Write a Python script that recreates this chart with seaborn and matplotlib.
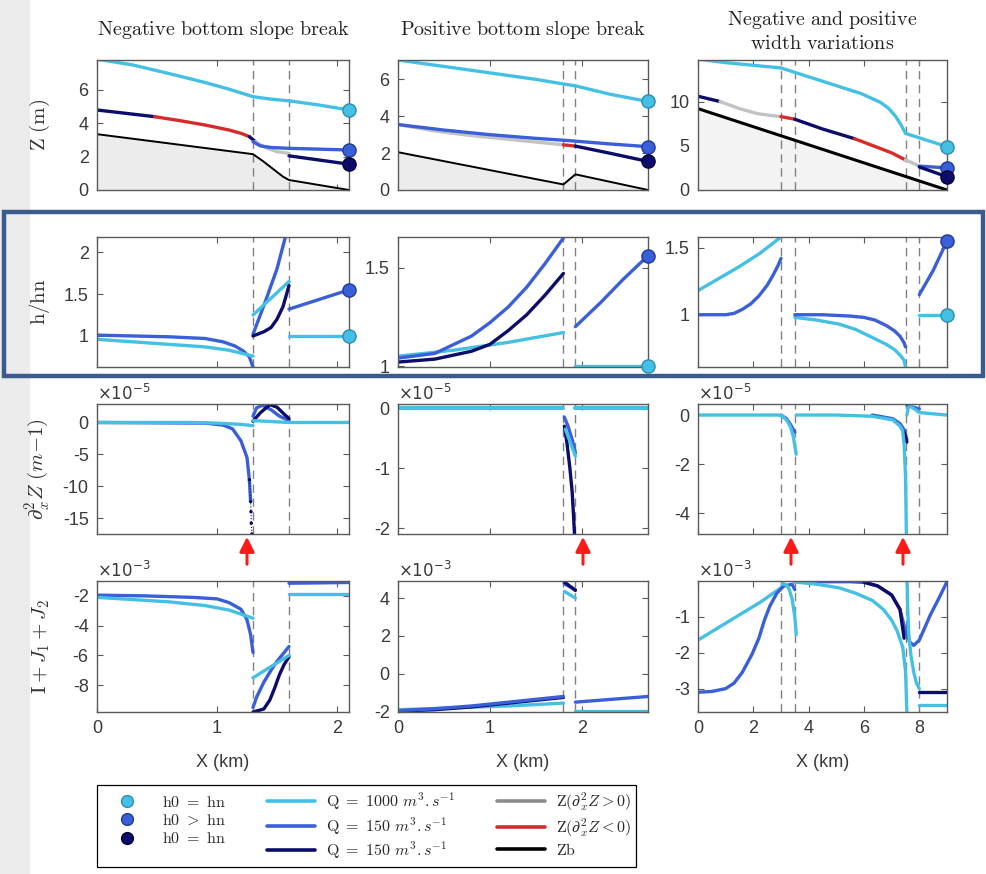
import numpy as np
import matplotlib
matplotlib.use("Agg")
import matplotlib.pyplot as plt
import seaborn as sns
from matplotlib.lines import Line2D
from matplotlib.patches import Rectangle, FancyArrowPatch

# ---------------- data ----------------
BRK1 = [1.3, 1.6]
BRK2 = [1.8, 1.93]
BRK3 = [3.0, 3.5, 7.5, 8.0]
TITLES = [r'$\mathrm{Negative\ bottom\ slope\ break}$',
          r'$\mathrm{Positive\ bottom\ slope\ break}$',
          r'$\mathrm{Negative\ and\ positive}$' + '\n' + r'$\mathrm{width\ variations}$']

# Row 1 (Z)
X11_CYAN = [0, 0.3, 0.65, 0.9, 1.1, 1.3, 1.45, 1.6, 1.85, 2.1]
Z11_CYAN = [7.85, 7.5, 6.9, 6.45, 6.05, 5.6, 5.45, 5.35, 5.1, 4.8]
X11_NAVY_A = [0, 0.48]; Z11_NAVY_A = [4.8, 4.4]
X11_RED = [0.48, 0.7, 0.9, 1.1, 1.2, 1.27]; Z11_RED = [4.4, 4.15, 3.9, 3.6, 3.4, 3.2]
X11_NAVY_B = [1.27, 1.32]; Z11_NAVY_B = [3.2, 2.9]
X11_GREY = [1.32, 1.4, 1.5, 1.6]; Z11_GREY = [2.9, 2.55, 2.3, 2.2]
X11_BLUE = [1.3, 1.36, 1.45, 1.6, 1.85, 2.1]; Z11_BLUE = [2.9, 2.65, 2.55, 2.5, 2.45, 2.4]
X11_NAVY_C = [1.6, 1.85, 2.1]; Z11_NAVY_C = [2.05, 1.8, 1.55]
X11_BED = [0, 1.3, 1.38, 1.55, 1.6, 2.1]; Z11_BED = [3.35, 2.15, 1.75, 0.8, 0.6, 0.0]

X12_CYAN = [0, 0.5, 1.0, 1.5, 1.8, 1.93, 2.3, 2.72]; Z12_CYAN = [7.05, 6.7, 6.35, 6.0, 5.75, 5.65, 5.2, 4.8]
X12_GREY = [0, 0.4, 0.8, 1.2, 1.5, 1.8]; Z12_GREY = [3.55, 3.2, 2.95, 2.75, 2.6, 2.45]
X12_BLUE = [0, 0.5, 1.0, 1.5, 1.8, 1.93, 2.3, 2.72]; Z12_BLUE = [3.55, 3.25, 3.0, 2.8, 2.7, 2.65, 2.5, 2.35]
X12_RED = [1.8, 1.93]; Z12_RED = [2.45, 2.38]
X12_NAVY = [1.93, 2.3, 2.72]; Z12_NAVY = [2.38, 2.0, 1.55]
X12_BED = [0, 1.8, 1.93, 2.72]; Z12_BED = [2.05, 0.3, 0.85, 0.0]

X13_CYAN = [0, 1, 2, 3, 3.5, 4.3, 5.1, 5.9, 6.6, 6.9, 7.15, 7.35, 7.5, 8, 8.5, 9]
Z13_CYAN = [14.8, 14.4, 14.1, 13.8, 13.3, 12.5, 11.7, 10.9, 9.9, 9.2, 8.3, 7.3, 6.4, 5.9, 5.4, 4.9]
X13_NAVY_A = [0, 0.8]; Z13_NAVY_A = [10.6, 10.0]
X13_GREY_A = [0.8, 1.5, 2.2, 3.0]; Z13_GREY_A = [10.0, 9.2, 8.6, 8.3]
X13_RED_A = [3.0, 3.5]; Z13_RED_A = [8.3, 8.0]
X13_NAVY_B = [3.5, 4.5, 5.66]; Z13_NAVY_B = [8.0, 6.9, 5.8]
X13_RED_B = [5.66, 6.5, 7.0, 7.5]; Z13_RED_B = [5.8, 4.8, 4.2, 3.4]
X13_GREY_B = [7.5, 8.0]; Z13_GREY_B = [3.4, 2.7]
X13_BLUE = [8.0, 9.0]; Z13_BLUE = [2.7, 2.5]
X13_NAVY_C = [8.0, 9.0]; Z13_NAVY_C = [2.6, 1.5]
X13_BED = [0, 9]; Z13_BED = [9.2, 0]

# Row 2 (h/hn)
X21_BLUE_A = [0, 0.3, 0.6, 0.9, 1.05, 1.15, 1.22, 1.27, 1.3]; H21_BLUE_A = [1.01, 1.0, 0.99, 0.97, 0.93, 0.88, 0.82, 0.75, 0.63]
X21_CYAN_A = [0, 0.3, 0.6, 0.9, 1.1, 1.3]; H21_CYAN_A = [0.96, 0.93, 0.9, 0.87, 0.83, 0.76]
X21_CYAN_B = [1.3, 1.45, 1.6]; H21_CYAN_B = [1.25, 1.45, 1.65]
X21_BLUE_B = [1.3, 1.4, 1.5, 1.57]; H21_BLUE_B = [1.02, 1.4, 1.8, 2.18]
X21_NAVY = [1.3, 1.39, 1.45, 1.5, 1.55, 1.6]; H21_NAVY = [1.0, 1.05, 1.1, 1.2, 1.35, 1.6]
X21_BLUE_C = [1.6, 2.1]; H21_BLUE_C = [1.32, 1.55]
X21_CYAN_C = [1.6, 2.1]; H21_CYAN_C = [1.0, 1.0]

X22_BLUE_A = [0, 0.4, 0.8, 1.0, 1.2, 1.4, 1.6, 1.8]; H22_BLUE_A = [1.04, 1.064, 1.152, 1.22, 1.30, 1.40, 1.52, 1.65]
X22_NAVY = [0, 0.4, 0.8, 1.0, 1.2, 1.4, 1.6, 1.8]; H22_NAVY = [1.02, 1.035, 1.075, 1.11, 1.18, 1.26, 1.36, 1.47]
X22_CYAN_A = [0, 0.6, 1.2, 1.8]; H22_CYAN_A = [1.05, 1.08, 1.12, 1.17]
X22_BLUE_B = [1.93, 2.2, 2.45, 2.72]; H22_BLUE_B = [1.2, 1.32, 1.44, 1.56]
X22_CYAN_B = [1.93, 2.72]; H22_CYAN_B = [1.0, 1.0]

X23_CYAN_A = [0, 0.75, 1.5, 2.25, 3.0]; H23_CYAN_A = [1.18, 1.27, 1.36, 1.46, 1.58]
X23_BLUE_A = [0, 1.0, 1.3, 1.6, 1.9, 2.2, 2.5, 2.7, 2.9, 3.0]; H23_BLUE_A = [1.0, 1.0, 1.01, 1.04, 1.08, 1.14, 1.22, 1.29, 1.37, 1.42]
X23_BLUE_B = [3.5, 4.5, 5.5, 6.0, 6.4, 6.8, 7.1, 7.3, 7.45, 7.5]; H23_BLUE_B = [1.0, 1.0, 0.99, 0.98, 0.96, 0.92, 0.88, 0.84, 0.79, 0.76]
X23_CYAN_B = [3.5, 4.3, 5.1, 5.7, 6.3, 6.8, 7.1, 7.3, 7.45, 7.5]; H23_CYAN_B = [0.98, 0.96, 0.93, 0.89, 0.83, 0.78, 0.74, 0.70, 0.66, 0.61]
X23_BLUE_C = [8.0, 8.5, 9.0]; H23_BLUE_C = [1.15, 1.33, 1.55]
X23_CYAN_C = [8.0, 9.0]; H23_CYAN_C = [1.0, 1.0]

# Row 3 (d2Z, x1e-5)
X31_CYAN_A = [0, 0.8, 1.0, 1.2, 1.3]; D31_CYAN_A = [0, 0, -0.1, -0.3, -0.5]
X31_CYAN_B = [1.3, 1.6, 2.1]; D31_CYAN_B = [0.3, 0, 0]
X31_BLUE_A = [0, 0.9, 1.05, 1.13, 1.2, 1.25, 1.27, 1.28]; D31_BLUE_A = [0, -0.1, -0.4, -1.0, -2.9, -5.5, -9, -12.4]
X31_NAVY_A = [1.27, 1.28, 1.283, 1.286, 1.29]; D31_NAVY_A = [-9, -12.4, -14, -15.8, -17.5]
X31_BLUE_B = [1.3, 1.33, 1.38, 1.45, 1.52, 1.6]; D31_BLUE_B = [1.0, 2.3, 2.7, 2.0, 1.0, 0.3]
X31_NAVY_B = [1.3, 1.36, 1.44, 1.5, 1.56, 1.6]; D31_NAVY_B = [0.2, 1.5, 2.8, 2.4, 1.3, 0.6]

X32_CYAN_A = [0, 1.8]; D32_CYAN_A = [0, 0]
X32_CYAN_C = [1.93, 2.72]; D32_CYAN_C = [0, 0]
X32_BLUE = [1.81, 1.85, 1.9, 1.93]; D32_BLUE = [-0.15, -0.3, -0.55, -0.75]
X32_CYAN_B = [1.82, 1.87, 1.93]; D32_CYAN_B = [-0.35, -0.55, -0.8]
X32_NAVY = [1.81, 1.84, 1.87, 1.895, 1.91, 1.92]; D32_NAVY = [-0.3, -0.6, -1.0, -1.4, -1.8, -2.1]

X33_CYAN_A = [0, 2.9, 3.05, 3.2, 3.35, 3.45, 3.55]; D33_CYAN_A = [0, 0, -0.05, -0.2, -0.5, -0.9, -1.6]
X33_NAVY_A = [3.0, 3.2, 3.35, 3.5]; D33_NAVY_A = [0, -0.15, -0.4, -0.7]
X33_CYAN_B = [3.55, 5, 6.3, 7.04, 7.3, 7.4, 7.45, 7.5, 7.52, 7.53]; D33_CYAN_B = [0, 0, -0.05, -0.2, -0.45, -0.65, -1.2, -2.5, -4, -4.85]
X33_BLUE_B = [6.3, 7.04, 7.3, 7.45, 7.55]; D33_BLUE_B = [0, -0.15, -0.35, -0.6, -1.0]
X33_NAVY_B = [7.45, 7.5, 7.55]; D33_NAVY_B = [-0.7, -0.9, -1.1]
X33_BLUE_C = [7.55, 7.7, 8.0]; D33_BLUE_C = [0.4, 0.35, 0.25]
X33_CYAN_C = [7.55, 7.6, 7.7, 8.0, 9.0]; D33_CYAN_C = [0.0, 0.3, 0.35, 0.1, 0.0]

# Row 4 (I+J1+J2, x1e-3)
X41_BLUE_A = [0, 0.4, 0.8, 1.0, 1.1, 1.2, 1.25, 1.28, 1.3]; J41_BLUE_A = [-1.95, -2.0, -2.1, -2.2, -2.45, -2.9, -3.6, -4.6, -5.8]
X41_CYAN_A = [0, 0.3, 0.6, 0.9, 1.1, 1.3]; J41_CYAN_A = [-2.1, -2.25, -2.4, -2.65, -2.95, -3.5]
X41_CYAN_B = [1.3, 1.4, 1.5, 1.6]; J41_CYAN_B = [-7.5, -7.0, -6.5, -6.0]
X41_BLUE_B = [1.3, 1.33, 1.39, 1.45, 1.5, 1.55, 1.6]; J41_BLUE_B = [-9.5, -8.8, -7.8, -7.0, -6.4, -5.9, -5.4]
X41_NAVY_B = [1.3, 1.39, 1.44, 1.48, 1.52, 1.56, 1.6]; J41_NAVY_B = [-9.8, -9.6, -9.0, -8.2, -7.3, -6.6, -6.1]
X41_BLUE_C = [1.6, 2.1]; J41_BLUE_C = [-1.15, -1.1]
X41_CYAN_C = [1.6, 2.1]; J41_CYAN_C = [-1.9, -1.9]

X42_BLUE_A = [0, 0.4, 0.8, 1.2, 1.5, 1.8]; J42_BLUE_A = [-1.95, -1.85, -1.7, -1.5, -1.35, -1.2]
X42_NAVY_A = [0, 0.4, 0.8, 1.2, 1.5, 1.8]; J42_NAVY_A = [-1.97, -1.9, -1.75, -1.55, -1.4, -1.25]
X42_CYAN_A = [0, 0.6, 1.2, 1.8]; J42_CYAN_A = [-1.9, -1.8, -1.7, -1.55]
X42_NAVY_B = [1.81, 1.93]; J42_NAVY_B = [4.85, 4.4]
X42_BLUE_B = [1.81, 1.93]; J42_BLUE_B = [4.75, 4.45]
X42_CYAN_B = [1.81, 1.93]; J42_CYAN_B = [4.35, 4.0]
X42_BLUE_C = [1.93, 2.72]; J42_BLUE_C = [-1.5, -1.2]
X42_CYAN_C = [1.93, 2.72]; J42_CYAN_C = [-1.95, -1.95]

X43_CYAN_A = [0, 0.75, 1.5, 2.25, 3.0, 3.1]; J43_CYAN_A = [-1.65, -1.3, -0.95, -0.6, -0.2, -0.08]
X43_CYAN_B = [3.05, 3.2, 3.3, 3.4, 3.5, 3.55]; J43_CYAN_B = [-0.1, -0.12, -0.25, -0.5, -1.0, -1.5]
X43_BLUE_A = [0, 0.5, 1.0, 1.3, 1.6, 1.95, 2.2, 2.4, 2.6, 2.85, 3.1, 3.4, 3.5]
J43_BLUE_A = [-3.1, -3.08, -3.0, -2.85, -2.55, -2.05, -1.6, -1.1, -0.7, -0.35, -0.15, -0.1, -0.25]
X43_CYAN_C = [3.5, 4.3, 5.1, 5.7, 6.3, 6.7, 7.0, 7.2, 7.4, 7.5, 7.55]; J43_CYAN_C = [-0.04, -0.1, -0.2, -0.35, -0.55, -0.8, -1.1, -1.4, -1.85, -2.5, -3.65]
X43_CYAN_D = [7.56, 7.58, 7.62, 7.7, 7.8, 7.9, 8.0]; J43_CYAN_D = [-0.03, -0.8, -1.5, -2.1, -2.55, -2.85, -3.0]
X43_BLUE_B = [3.5, 4.5, 5.5, 6.0, 6.5, 7.0, 7.3, 7.5, 7.65, 7.8, 8.0, 8.2, 8.4, 8.7, 9.0]
J43_BLUE_B = [-0.03, -0.03, -0.03, -0.05, -0.15, -0.4, -0.8, -1.4, -1.7, -1.8, -1.65, -1.3, -0.95, -0.5, -0.03]
X43_NAVY_B = [6.0, 6.5, 7.0, 7.3, 7.45]; J43_NAVY_B = [-0.04, -0.15, -0.4, -0.8, -1.6]
X43_NAVY_C = [8.0, 9.0]; J43_NAVY_C = [-3.1, -3.1]
X43_CYAN_E = [8.0, 9.0]; J43_CYAN_E = [-3.45, -3.45]

# ---------------- style ----------------
CYAN = '#45c0e5'
BLUE = '#3a5fd6'
NAVY = '#0c0c6a'
RED = '#d52b2b'
GREY = '#c3c3c3'
BEDC = '#000000'
AXC = '#5a5a5a'
TXC = '#3a3a3a'

sns.set_style('ticks')
plt.rcParams['font.family'] = ['Liberation Sans', 'DejaVu Sans']
plt.rcParams['mathtext.fontset'] = 'cm'
plt.rcParams['axes.unicode_minus'] = False

W, H = 987, 874
fig = plt.figure(figsize=(W / 100, H / 100), dpi=100)
fig.patch.set_facecolor('white')
fig.patches.append(Rectangle((0, 0), 30 / W, 1, transform=fig.transFigure,
                             facecolor='#ebebeb', edgecolor='none', zorder=0))

COL_L = [97, 398, 698]
COL_W = [252, 250, 249]
ROW_T = [60, 237, 404, 581]
ROW_H = [130, 130, 130, 131]

axes = [[None] * 3 for _ in range(4)]
for r in range(4):
    for c in range(3):
        axes[r][c] = fig.add_axes([COL_L[c] / W, 1 - (ROW_T[r] + ROW_H[r]) / H,
                                   COL_W[c] / W, ROW_H[r] / H])

LW = 2.4


def line(ax, x, y, color, lw=LW, z=3, **kw):
    sns.lineplot(x=x, y=y, color=color, lw=lw, ax=ax, sort=False,
                 estimator=None, legend=False, zorder=z, **kw)


def dots(ax, x, y, color):
    sns.scatterplot(x=x, y=y, color=color, s=6, ax=ax, legend=False,
                    edgecolor='none', zorder=4)


def end(ax, x, y, color, edge):
    sns.scatterplot(x=[x], y=[y], color=color, s=90, ax=ax, legend=False,
                    edgecolor=edge, linewidth=1.0, zorder=6, clip_on=False)


EDGE = {CYAN: '#2a8db0', BLUE: '#23399a', NAVY: '#000033'}

# Row 1
ax = axes[0][0]
ax.fill_between(X11_BED, 0, Z11_BED, color='#ececec', zorder=1, lw=0)
line(ax, X11_BED, Z11_BED, BEDC, lw=1.4)
line(ax, X11_CYAN, Z11_CYAN, CYAN)
line(ax, X11_NAVY_A, Z11_NAVY_A, NAVY)
line(ax, X11_RED, Z11_RED, RED)
line(ax, X11_NAVY_B, Z11_NAVY_B, NAVY)
line(ax, X11_GREY, Z11_GREY, GREY)
line(ax, X11_BLUE, Z11_BLUE, BLUE)
line(ax, X11_NAVY_C, Z11_NAVY_C, NAVY)
end(ax, X11_CYAN[-1], Z11_CYAN[-1], CYAN, EDGE[CYAN])
end(ax, X11_BLUE[-1], Z11_BLUE[-1], BLUE, EDGE[BLUE])
end(ax, X11_NAVY_C[-1], Z11_NAVY_C[-1], NAVY, EDGE[NAVY])

ax = axes[0][1]
ax.fill_between(X12_BED, 0, Z12_BED, color='#ececec', zorder=1, lw=0)
line(ax, X12_BED, Z12_BED, BEDC, lw=1.4)
line(ax, X12_CYAN, Z12_CYAN, CYAN)
line(ax, X12_GREY, Z12_GREY, GREY)
line(ax, X12_BLUE, Z12_BLUE, BLUE)
line(ax, X12_RED, Z12_RED, RED)
line(ax, X12_NAVY, Z12_NAVY, NAVY)
end(ax, X12_CYAN[-1], Z12_CYAN[-1], CYAN, EDGE[CYAN])
end(ax, X12_BLUE[-1], Z12_BLUE[-1], BLUE, EDGE[BLUE])
end(ax, X12_NAVY[-1], Z12_NAVY[-1], NAVY, EDGE[NAVY])

ax = axes[0][2]
ax.fill_between(X13_BED, 0, Z13_BED, color='#f3f3f3', zorder=1, lw=0)
line(ax, X13_BED, Z13_BED, BEDC, lw=2.2)
line(ax, X13_CYAN, Z13_CYAN, CYAN)
line(ax, X13_NAVY_A, Z13_NAVY_A, NAVY)
line(ax, X13_GREY_A, Z13_GREY_A, GREY)
line(ax, X13_RED_A, Z13_RED_A, RED)
line(ax, X13_NAVY_B, Z13_NAVY_B, NAVY)
line(ax, X13_RED_B, Z13_RED_B, RED)
line(ax, X13_GREY_B, Z13_GREY_B, GREY)
line(ax, X13_BLUE, Z13_BLUE, BLUE)
line(ax, X13_NAVY_C, Z13_NAVY_C, NAVY)
end(ax, X13_CYAN[-1], Z13_CYAN[-1], CYAN, EDGE[CYAN])
end(ax, X13_BLUE[-1], Z13_BLUE[-1], BLUE, EDGE[BLUE])
end(ax, X13_NAVY_C[-1], Z13_NAVY_C[-1], NAVY, EDGE[NAVY])

# Row 2
ax = axes[1][0]
line(ax, X21_BLUE_A, H21_BLUE_A, BLUE)
line(ax, X21_CYAN_A, H21_CYAN_A, CYAN)
line(ax, X21_BLUE_B, H21_BLUE_B, BLUE)
line(ax, X21_CYAN_B, H21_CYAN_B, CYAN)
line(ax, X21_NAVY, H21_NAVY, NAVY)
line(ax, X21_BLUE_C, H21_BLUE_C, BLUE)
line(ax, X21_CYAN_C, H21_CYAN_C, CYAN)
end(ax, X21_BLUE_C[-1], H21_BLUE_C[-1], BLUE, EDGE[BLUE])
end(ax, X21_CYAN_C[-1], H21_CYAN_C[-1], CYAN, EDGE[CYAN])

ax = axes[1][1]
line(ax, X22_CYAN_A, H22_CYAN_A, CYAN)
line(ax, X22_BLUE_A, H22_BLUE_A, BLUE)
line(ax, X22_NAVY, H22_NAVY, NAVY)
line(ax, X22_BLUE_B, H22_BLUE_B, BLUE)
line(ax, X22_CYAN_B, H22_CYAN_B, CYAN)
end(ax, X22_BLUE_B[-1], H22_BLUE_B[-1], BLUE, EDGE[BLUE])
end(ax, X22_CYAN_B[-1], H22_CYAN_B[-1], CYAN, EDGE[CYAN])

ax = axes[1][2]
line(ax, X23_CYAN_A, H23_CYAN_A, CYAN)
line(ax, X23_BLUE_A, H23_BLUE_A, BLUE)
line(ax, X23_CYAN_B, H23_CYAN_B, CYAN)
line(ax, X23_BLUE_B, H23_BLUE_B, BLUE)
line(ax, X23_BLUE_C, H23_BLUE_C, BLUE)
line(ax, X23_CYAN_C, H23_CYAN_C, CYAN)
end(ax, X23_BLUE_C[-1], H23_BLUE_C[-1], BLUE, EDGE[BLUE])
end(ax, X23_CYAN_C[-1], H23_CYAN_C[-1], CYAN, EDGE[CYAN])

# Row 3
ax = axes[2][0]
line(ax, X31_BLUE_A, D31_BLUE_A, BLUE)
dots(ax, X31_NAVY_A, D31_NAVY_A, NAVY)
line(ax, X31_NAVY_A, D31_NAVY_A, NAVY, lw=0.8, linestyle=':')
line(ax, X31_BLUE_B, D31_BLUE_B, BLUE)
line(ax, X31_NAVY_B, D31_NAVY_B, NAVY)
line(ax, X31_CYAN_A, D31_CYAN_A, CYAN)
line(ax, X31_CYAN_B, D31_CYAN_B, CYAN)

ax = axes[2][1]
line(ax, X32_BLUE, D32_BLUE, BLUE)
line(ax, X32_NAVY, D32_NAVY, NAVY)
line(ax, X32_CYAN_B, D32_CYAN_B, CYAN)
line(ax, X32_CYAN_A, D32_CYAN_A, CYAN, lw=3)
line(ax, X32_CYAN_C, D32_CYAN_C, CYAN, lw=3)

ax = axes[2][2]
line(ax, X33_NAVY_A, D33_NAVY_A, BLUE)
line(ax, X33_BLUE_B, D33_BLUE_B, BLUE)
line(ax, X33_NAVY_B, D33_NAVY_B, NAVY)
line(ax, X33_BLUE_C, D33_BLUE_C, BLUE)
line(ax, X33_CYAN_A, D33_CYAN_A, CYAN)
line(ax, X33_CYAN_B, D33_CYAN_B, CYAN)
line(ax, X33_CYAN_C, D33_CYAN_C, CYAN)

# Row 4
ax = axes[3][0]
line(ax, X41_BLUE_A, J41_BLUE_A, BLUE)
line(ax, X41_CYAN_A, J41_CYAN_A, CYAN)
line(ax, X41_NAVY_B, J41_NAVY_B, NAVY)
line(ax, X41_BLUE_B, J41_BLUE_B, BLUE)
line(ax, X41_CYAN_B, J41_CYAN_B, CYAN)
line(ax, X41_BLUE_C, J41_BLUE_C, BLUE)
line(ax, X41_CYAN_C, J41_CYAN_C, CYAN)

ax = axes[3][1]
line(ax, X42_CYAN_A, J42_CYAN_A, CYAN)
line(ax, X42_NAVY_A, J42_NAVY_A, NAVY)
line(ax, X42_BLUE_A, J42_BLUE_A, BLUE)
line(ax, X42_CYAN_B, J42_CYAN_B, CYAN)
line(ax, X42_BLUE_B, J42_BLUE_B, BLUE)
line(ax, X42_NAVY_B, J42_NAVY_B, NAVY)
line(ax, X42_BLUE_C, J42_BLUE_C, BLUE)
line(ax, X42_CYAN_C, J42_CYAN_C, CYAN)

ax = axes[3][2]
line(ax, X43_CYAN_A, J43_CYAN_A, CYAN)
line(ax, X43_BLUE_A, J43_BLUE_A, BLUE)
line(ax, X43_CYAN_B, J43_CYAN_B, CYAN)
line(ax, X43_BLUE_B, J43_BLUE_B, BLUE)
line(ax, X43_NAVY_B, J43_NAVY_B, NAVY)
line(ax, X43_CYAN_C, J43_CYAN_C, CYAN)
line(ax, X43_CYAN_D, J43_CYAN_D, CYAN)
line(ax, X43_NAVY_C, J43_NAVY_C, NAVY)
line(ax, X43_CYAN_E, J43_CYAN_E, CYAN)

# ---------------- axes formatting ----------------
XLIMS = [(0, 2.1), (0, 2.72), (0, 9.0)]
XTICKS = [[0, 1, 2], [0, 1, 2], [0, 2, 4, 6, 8]]
BRKS = [BRK1, BRK2, BRK3]
YLIMS = [[(0, 7.8), (0, 7.05), (0, 14.7)],
         [(0.63, 2.18), (0.995, 1.655), (0.61, 1.58)],
         [(-17.5, 2.9), (-2.1, 0.07), (-4.85, 0.45)],
         [(-9.8, -1.0), (-2.02, 4.9), (-3.65, -0.01)]]
YTICKS = [[[0, 2, 4, 6], [0, 2, 4, 6], [0, 5, 10]],
          [[1, 1.5, 2], [1, 1.5], [1, 1.5]],
          [[0, -5, -10, -15], [0, -1, -2], [0, -2, -4]],
          [[-2, -4, -6, -8], [-2, 0, 2, 4], [-1, -2, -3]]]
YLABELS = [r'$\mathrm{Z\ (m)}$', r'$\mathrm{h/hn}$', r'$\partial_x^2 Z\ (m{-}1)$',
           r'$\mathrm{I}+J_1+J_2$']
OFFSETS = [None, None, r'$\times10^{-5}$', r'$\times10^{-3}$']

for r in range(4):
    for c in range(3):
        ax = axes[r][c]
        ax.set_xlim(*XLIMS[c])
        ax.set_ylim(*YLIMS[r][c])
        ax.set_xticks(XTICKS[c])
        ax.set_yticks(YTICKS[r][c])
        ax.set_yticklabels(['%g' % v for v in YTICKS[r][c]])
        for b in BRKS[c]:
            ax.axvline(b, color='#808080', lw=1.0, ls=(0, (6, 4)), zorder=2)
        ax.tick_params(direction='in', length=4, width=0.8, color=AXC,
                       labelcolor=TXC, labelsize=13, top=True, right=True, pad=6)
        for s in ax.spines.values():
            s.set_color(AXC)
            s.set_linewidth(1.0)
            s.set_zorder(5)
        ax.set_ylabel('')
        if r < 3:
            ax.set_xticklabels([])
            ax.set_xlabel('')
        else:
            ax.set_xticklabels(['%g' % v for v in XTICKS[c]])
            ax.set_xlabel('X (km)', fontsize=13, color=TXC, labelpad=12)
        if c == 0:
            ax.set_ylabel(YLABELS[r], fontsize=15, color='#333333')
            ax.yaxis.set_label_coords(-0.18, 0.5)
        if OFFSETS[r] is not None:
            ax.text(0.0, 1.005, OFFSETS[r], transform=ax.transAxes, ha='left',
                    va='bottom', fontsize=12, color=TXC, math_fontfamily='dejavusans')
        ax.set_facecolor('white')
        ax.set_zorder(2)

axes[0][0].set_title(TITLES[0], fontsize=14.5, color='#222222', pad=18)
axes[0][1].set_title(TITLES[1], fontsize=14.5, color='#222222', pad=18)
axes[0][2].set_title(TITLES[2], fontsize=14.5, color='#222222', pad=8)

# Frame around the h/hn row
fig.patches.append(Rectangle((4 / W, 1 - 376 / H), 979 / W, 164 / H,
                             transform=fig.transFigure, fill=False,
                             edgecolor='#3a5b8b', lw=3.2, zorder=10))

# Red arrows
for xa in [247, 583, 791, 903]:
    fig.add_artist(FancyArrowPatch(
        (xa / W, 1 - 567 / H), (xa / W, 1 - 534 / H), transform=fig.transFigure,
        arrowstyle='-|>', mutation_scale=22, color='#ff1a1a', lw=2.2, zorder=10))

# Legend
handles = [
    Line2D([], [], ls='none', marker='o', ms=8.5, mfc=CYAN, mec=EDGE[CYAN]),
    Line2D([], [], ls='none', marker='o', ms=8.5, mfc=BLUE, mec=EDGE[BLUE]),
    Line2D([], [], ls='none', marker='o', ms=8.5, mfc=NAVY, mec=EDGE[NAVY]),
    Line2D([], [], color=CYAN, lw=2.6),
    Line2D([], [], color=BLUE, lw=2.6),
    Line2D([], [], color=NAVY, lw=2.6),
    Line2D([], [], color='#8c8c8c', lw=2.6),
    Line2D([], [], color=RED, lw=2.6),
    Line2D([], [], color='black', lw=2.6),
]
labels = [r'$\mathrm{h0\ =\ hn}$', r'$\mathrm{h0\ >\ hn}$', r'$\mathrm{h0\ =\ hn}$',
          r'$\mathrm{Q\ =\ 1000}\ m^3.s^{-1}$', r'$\mathrm{Q\ =\ 150}\ m^3.s^{-1}$',
          r'$\mathrm{Q\ =\ 150}\ m^3.s^{-1}$',
          r'$\mathrm{Z}(\partial_x^2 Z >0)$', r'$\mathrm{Z}(\partial_x^2 Z <0)$',
          r'$\mathrm{Zb}$']
leg = fig.legend(handles, labels, ncol=3, loc='upper left',
                 bbox_to_anchor=(97 / W, 1 - 785 / H), borderaxespad=0,
                 fontsize=11.5, frameon=True, fancybox=False, edgecolor='black',
                 framealpha=1, handlelength=3.0, columnspacing=2.6,
                 labelspacing=0.2, handletextpad=0.7, borderpad=0.35)
leg.get_frame().set_linewidth(0.9)

fig.savefig('out.png', dpi=100)
